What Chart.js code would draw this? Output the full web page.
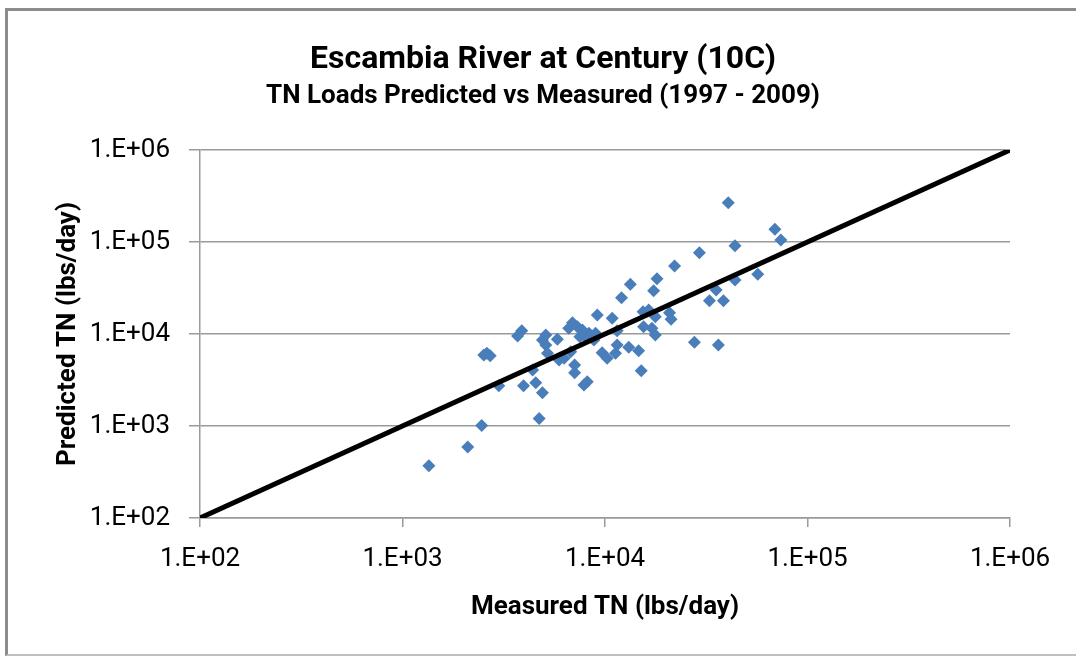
<!DOCTYPE html>
<html>
<head>
<meta charset="utf-8">
<script src="https://cdn.jsdelivr.net/npm/chart.js@4/dist/chart.umd.min.js"></script>
<style>
  html, body { margin: 0; padding: 0; background: #ffffff; }
  #wrap { position: relative; width: 1076px; height: 656px; overflow: hidden; }
  #frame { position: absolute; left: 5px; top: 8px; width: 1100px; height: 643px;
           border-left: 3px solid #8c8c8c; border-top: 3px solid #8c8c8c;
           border-bottom: 2px solid #c0c0c0; }
  #c { position: absolute; left: 0; top: 0; }
</style>
</head>
<body>
<div id="wrap">
  <div id="frame"></div>
  <canvas id="c" width="1076" height="656"></canvas>
</div>
<script>
// ---- data ----
const titleText = "Escambia River at Century (10C)";
const subtitleText = "TN Loads Predicted vs Measured (1997 - 2009)";
const xAxisTitle = "Measured TN (lbs/day)";
const yAxisTitle = "Predicted TN (lbs/day)";

const tickValues = [100, 1000, 10000, 100000, 1000000];
const tickLabels = ["1.E+02", "1.E+03", "1.E+04", "1.E+05", "1.E+06"];

// 1:1 reference line
const lineX = [100, 1000000];
const lineY = [100, 1000000];

// Measured vs predicted TN loads (lbs/day)
const measured = [1350, 2100, 2460, 4730, 2990, 3960, 4550, 4910, 4390, 7870,
  8170, 7080, 7080, 15100, 2610, 2710, 2520, 3700, 3880, 5100,
  4910, 5820, 5200, 5100, 5930, 6280, 6770, 6910, 7300, 7730,
  8020, 8330, 8820, 8980, 9160, 10850, 11480, 9680, 10250, 11270,
  11480, 13100, 14660, 12060, 13340, 15420, 16430, 15500, 17050, 17720,
  17720, 18060, 17380, 20830, 21190, 22060, 29250, 27650, 32800, 35400,
  38450, 36300, 43850, 43850, 40600, 56800, 69000, 73900, 7520, 6620];
const predicted = [370, 590, 1010, 1210, 2740, 2740, 2960, 2300, 4060, 2790,
  3030, 3800, 4600, 3990, 6170, 5800, 5910, 9510, 10870, 9750,
  8600, 8750, 6170, 7590, 5210, 5440, 6430, 13280, 12000, 11030,
  9350, 10160, 8600, 10160, 16100, 14820, 10870, 6270, 5440, 6170,
  7590, 7160, 6580, 24850, 34700, 17480, 18240, 12000, 11530, 9750,
  15420, 39900, 29580, 17070, 14450, 54800, 76500, 8110, 23000, 30060,
  23000, 7590, 38600, 91200, 267000, 44550, 137300, 105200, 9350, 11530];

// ---- chart ----
const FONT = "Roboto, 'Open Sans', 'Liberation Sans', sans-serif";
const GRID = '#9a9a9a';

const scatterPts = measured.map((v, i) => ({ x: v, y: predicted[i] }));
const linePts = lineX.map((v, i) => ({ x: v, y: lineY[i] }));

function fixTicks(scale) {
  scale.ticks = tickValues.map(v => ({ value: v }));
}

// re-centre the title / subtitle boxes over the whole frame
const centerTitles = {
  id: 'centerTitles',
  afterLayout(chart) {
    chart.boxes.forEach(b => {
      if (b.options && (b.options.text === titleText || b.options.text === subtitleText)) {
        b.left = 10;
        b.right = 1076;
        b.width = b.right - b.left;
      }
    });
  }
};

new Chart(document.getElementById('c'), {
  type: 'scatter',
  plugins: [centerTitles],
  data: {
    datasets: [
      {
        type: 'line',
        data: linePts,
        borderColor: '#000000',
        borderWidth: 5,
        pointRadius: 0,
        fill: false,
        tension: 0
      },
      {
        type: 'scatter',
        data: scatterPts,
        pointStyle: 'rectRot',
        pointRadius: 6.5,
        backgroundColor: '#4a7ebb',
        borderColor: '#4a7ebb',
        borderWidth: 0
      }
    ]
  },
  options: {
    responsive: false,
    animation: false,
    events: [],
    layout: { padding: { left: 0, right: 66, top: 0, bottom: 0 } },
    plugins: {
      legend: { display: false },
      tooltip: { enabled: false },
      title: {
        display: true,
        text: titleText,
        color: '#000',
        font: { family: FONT, size: 32, weight: 'bold', lineHeight: 1.2 },
        padding: { top: 41, bottom: 0 }
      },
      subtitle: {
        display: true,
        text: subtitleText,
        color: '#000',
        font: { family: FONT, size: 26, weight: 'bold', lineHeight: 1.2 },
        padding: { top: 1, bottom: 38.4 }
      }
    },
    scales: {
      x: {
        type: 'logarithmic',
        position: 'bottom',
        min: 100,
        max: 1000000,
        afterBuildTicks: fixTicks,
        afterFit: s => { s.height = 138; },
        grid: { display: true, drawOnChartArea: false, drawTicks: true, tickLength: 9, color: GRID, lineWidth: 1.5 },
        border: { display: true, color: GRID, width: 1.5 },
        ticks: {
          autoSkip: false, maxRotation: 0, minRotation: 0, padding: 16.4, color: '#000',
          font: { family: FONT, size: 26 },
          callback: (v, i) => tickLabels[i]
        },
        title: {
          display: true, text: xAxisTitle, color: '#000',
          font: { family: FONT, size: 26, weight: 'bold', lineHeight: 1.2 },
          padding: { top: 0, bottom: 33.4 }
        }
      },
      y: {
        type: 'logarithmic',
        position: 'left',
        min: 100,
        max: 1000000,
        afterBuildTicks: fixTicks,
        afterFit: s => { s.width = 200; },
        grid: { display: true, drawOnChartArea: true, drawTicks: true, tickLength: 11, color: GRID, lineWidth: 1.5 },
        border: { display: true, color: GRID, width: 1.5 },
        ticks: {
          autoSkip: false, padding: 19, color: '#000',
          font: { family: FONT, size: 26 },
          callback: (v, i) => tickLabels[i]
        },
        title: {
          display: true, text: yAxisTitle, color: '#000',
          font: { family: FONT, size: 26, weight: 'bold', lineHeight: 1.2 },
          padding: { top: 52.4, bottom: 0 }
        }
      }
    }
  }
});
</script>
</body>
</html>
